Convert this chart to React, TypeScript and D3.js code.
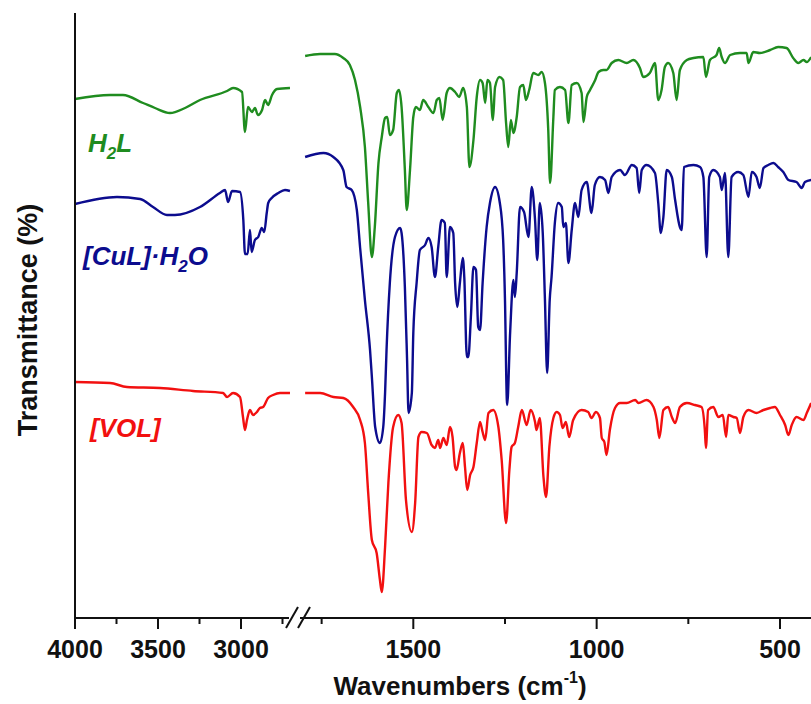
import React from "react";
import * as d3 from "d3";

// wavenumber (cm-1), transmittance (a.u., offset per spectrum)
const h2lLeft: [number, number][] = [
  [4000, 519], [3789, 523], [3711, 523], [3590, 515], [3518, 510], [3428, 505], [3337, 510], [3247, 518],
  [3084, 527], [3048, 530], [2994, 526], [2976, 486], [2958, 511], [2934, 506], [2916, 510], [2898, 503],
  [2873, 508], [2855, 518], [2837, 513], [2813, 523], [2783, 529], [2705, 530],
];
const h2lRight: [number, number][] = [
  [1795, 562], [1754, 564], [1714, 564], [1691, 560], [1673, 553], [1659, 538], [1645, 511], [1632, 471],
  [1623, 415], [1613, 361], [1605, 391], [1595, 455], [1586, 481], [1577, 500], [1571, 501], [1564, 483],
  [1555, 488], [1545, 525], [1539, 528], [1532, 511], [1523, 448], [1518, 408], [1509, 448], [1500, 501],
  [1493, 511], [1482, 508], [1473, 518], [1459, 511], [1445, 505], [1436, 518], [1429, 520], [1420, 498],
  [1409, 525], [1400, 530], [1386, 526], [1375, 521], [1364, 530], [1354, 511], [1347, 451], [1336, 478],
  [1327, 521], [1318, 538], [1311, 535], [1304, 515], [1298, 538], [1291, 535], [1283, 498], [1277, 531],
  [1265, 541], [1255, 538], [1247, 495], [1241, 471], [1234, 498], [1227, 485], [1218, 501], [1209, 531],
  [1200, 533], [1193, 518], [1184, 528], [1173, 545], [1159, 543], [1150, 546], [1141, 535], [1132, 488],
  [1127, 435], [1118, 501], [1114, 528], [1100, 531], [1086, 528], [1077, 495], [1068, 533], [1054, 535],
  [1041, 525], [1036, 496], [1027, 521], [1018, 528], [1004, 538], [995, 546], [982, 548], [973, 548],
  [959, 555], [941, 558], [918, 555], [900, 558], [882, 550], [873, 541], [855, 545], [841, 555],
  [832, 518], [823, 528], [814, 551], [805, 555], [791, 545], [782, 518], [773, 548], [754, 558],
  [736, 560], [709, 561], [702, 541], [691, 558], [673, 563], [666, 570], [659, 561], [650, 555],
  [636, 563], [609, 565], [591, 565], [586, 555], [573, 566], [555, 565], [527, 568], [505, 571],
  [482, 570], [464, 560], [450, 555], [436, 558], [427, 556], [415, 561],
];

const culLeft: [number, number][] = [
  [4000, 414], [3747, 421], [3608, 419], [3530, 411], [3446, 403], [3398, 403], [3247, 411], [3127, 425],
  [3096, 428], [3078, 416], [3054, 427], [3006, 426], [2986, 398], [2976, 364], [2960, 364], [2946, 388],
  [2936, 366], [2916, 378], [2896, 381], [2875, 390], [2860, 386], [2845, 405], [2836, 415], [2815, 420],
  [2775, 425], [2735, 428], [2705, 427],
];
const culRight: [number, number][] = [
  [1795, 461], [1745, 465], [1718, 461], [1691, 448], [1682, 431], [1668, 428], [1654, 408], [1645, 370],
  [1632, 318], [1618, 268], [1613, 241], [1604, 191], [1591, 175], [1582, 191], [1577, 225], [1573, 268],
  [1564, 335], [1550, 381], [1536, 390], [1532, 385], [1523, 331], [1517, 258], [1513, 205], [1504, 225],
  [1500, 285], [1491, 335], [1482, 368], [1468, 373], [1459, 380], [1450, 371], [1441, 341], [1432, 371],
  [1423, 398], [1414, 395], [1409, 341], [1400, 391], [1391, 385], [1386, 335], [1380, 311], [1373, 335],
  [1365, 360], [1361, 341], [1354, 261], [1350, 261], [1343, 301], [1336, 351], [1329, 348], [1323, 291],
  [1318, 288], [1311, 335], [1300, 391], [1291, 415], [1277, 431], [1264, 415], [1255, 378], [1250, 318],
  [1245, 218], [1244, 213], [1236, 285], [1227, 338], [1223, 321], [1218, 345], [1209, 411], [1198, 406],
  [1186, 381], [1177, 431], [1168, 398], [1162, 358], [1155, 415], [1147, 385], [1141, 318], [1135, 245],
  [1128, 318], [1123, 341], [1114, 395], [1105, 415], [1095, 411], [1091, 391], [1084, 395], [1077, 355],
  [1068, 388], [1059, 415], [1050, 401], [1041, 428], [1027, 436], [1014, 405], [1005, 433], [991, 441],
  [977, 438], [968, 425], [959, 441], [936, 448], [923, 443], [904, 453], [891, 450], [884, 425],
  [877, 448], [864, 453], [841, 445], [832, 415], [825, 385], [818, 401], [809, 448], [795, 441],
  [786, 418], [773, 391], [768, 388], [762, 451], [736, 453], [718, 451], [709, 441], [700, 361],
  [693, 441], [682, 448], [664, 441], [659, 428], [650, 445], [641, 361], [632, 441], [614, 446],
  [600, 443], [586, 421], [577, 446], [564, 441], [555, 430], [545, 450], [532, 453], [518, 455],
  [505, 451], [491, 446], [477, 438], [455, 436], [441, 430], [432, 436], [415, 438],
];

const volLeft: [number, number][] = [
  [4000, 236], [3789, 235], [3687, 231], [3488, 230], [3289, 227], [3108, 225], [3084, 221], [3048, 225],
  [3006, 221], [2988, 201], [2976, 188], [2964, 198], [2946, 208], [2928, 203], [2904, 206], [2886, 210],
  [2867, 211], [2837, 220], [2807, 223], [2765, 225], [2705, 225],
];
const volRight: [number, number][] = [
  [1795, 225], [1754, 225], [1718, 221], [1691, 220], [1664, 211], [1645, 198], [1632, 175], [1623, 125],
  [1613, 78], [1600, 65], [1591, 38], [1586, 26], [1577, 71], [1568, 135], [1555, 191], [1541, 203],
  [1532, 195], [1520, 118], [1504, 86], [1495, 115], [1486, 181], [1477, 186], [1463, 185], [1450, 173],
  [1441, 170], [1432, 178], [1427, 170], [1418, 180], [1409, 173], [1400, 191], [1393, 181], [1386, 151],
  [1382, 148], [1373, 165], [1365, 175], [1359, 151], [1353, 128], [1345, 143], [1336, 151], [1327, 175],
  [1318, 196], [1311, 186], [1304, 178], [1295, 205], [1282, 208], [1268, 191], [1259, 158], [1247, 95],
  [1238, 148], [1232, 171], [1223, 175], [1214, 191], [1204, 208], [1191, 193], [1180, 208], [1168, 196],
  [1164, 188], [1155, 200], [1145, 141], [1138, 121], [1129, 171], [1118, 200], [1109, 206], [1100, 203],
  [1093, 190], [1084, 196], [1075, 181], [1064, 198], [1041, 208], [1023, 206], [1014, 200], [1002, 206],
  [991, 200], [986, 180], [979, 176], [973, 163], [964, 188], [950, 210], [936, 215], [918, 215],
  [895, 218], [886, 215], [864, 218], [845, 211], [836, 198], [829, 180], [818, 208], [805, 211],
  [795, 201], [786, 195], [773, 211], [754, 215], [732, 213], [714, 211], [705, 188], [702, 170],
  [696, 208], [682, 211], [668, 201], [656, 203], [647, 181], [641, 203], [627, 201], [618, 200],
  [609, 185], [600, 201], [586, 208], [564, 205], [545, 208], [527, 210], [514, 211], [500, 203],
  [486, 193], [477, 183], [468, 193], [455, 201], [436, 198], [427, 205], [415, 215],
];

const leftMajorTicks = [4000, 3500, 3000];
const leftMinorTicks = [3750, 3250, 2750];
const rightMajorTicks = [1500, 1000, 500];
const rightMinorTicks = [1750, 1250, 750];

const GREEN = "#1f8c1f";
const BLUE = "#0c0c8e";
const RED = "#f21010";

export default function App() {
  const W = 811, H = 704;
  const axisY = 618;
  const axisX = 75;
  const xL = d3.scaleLinear().domain([4000, 3000]).range([75, 241]);
  const xR = d3.scaleLinear().domain([1800, 500]).range([303.3, 780]);
  const y = d3.scaleLinear().domain([0, 605]).range([618, 13]);

  const lineL = d3.line<[number, number]>().x((d) => xL(d[0])).y((d) => y(d[1])).curve(d3.curveMonotoneX);
  const lineR = d3.line<[number, number]>().x((d) => xR(d[0])).y((d) => y(d[1])).curve(d3.curveMonotoneX);

  const series = [
    { l: h2lLeft, r: h2lRight, c: GREEN },
    { l: culLeft, r: culRight, c: BLUE },
    { l: volLeft, r: volRight, c: RED },
  ];

  const font = "'Liberation Sans', Arial, Helvetica, sans-serif";
  const tickLabel = (x: number, t: number) => (
    <text key={"t" + t + x} x={x} y={658} textAnchor="middle" fontSize={25} fontWeight="bold" fontFamily={font} fill="#111">
      {t}
    </text>
  );

  return (
    <svg width={W} height={H} style={{ position: "absolute", left: 0, top: 0, background: "#fff" }}>
      <defs>
        <clipPath id="clipR">
          <rect x={300} y={0} width={W - 300} height={H} />
        </clipPath>
      </defs>
      {series.map((s, i) => (
        <g key={i} fill="none" stroke={s.c} strokeWidth={2.4} strokeLinejoin="round">
          <path d={lineL(s.l) || ""} />
          <path d={lineR(s.r) || ""} clipPath="url(#clipR)" />
        </g>
      ))}

      {/* axes */}
      <line x1={axisX} x2={axisX} y1={13} y2={axisY + 1} stroke="#111" strokeWidth={2} />
      <line x1={axisX - 1} x2={289} y1={axisY} y2={axisY} stroke="#111" strokeWidth={2} />
      <line x1={300} x2={W} y1={axisY} y2={axisY} stroke="#111" strokeWidth={2} />
      <line x1={286} y1={628} x2={298} y2={607} stroke="#111" strokeWidth={2} />
      <line x1={298} y1={628} x2={310} y2={607} stroke="#111" strokeWidth={2} />

      {leftMajorTicks.map((t) => (
        <line key={"lM" + t} x1={xL(t)} x2={xL(t)} y1={axisY} y2={axisY + 11} stroke="#111" strokeWidth={2} />
      ))}
      {leftMinorTicks.map((t) => (
        <line key={"lm" + t} x1={xL(t)} x2={xL(t)} y1={axisY} y2={axisY + 6} stroke="#111" strokeWidth={2} />
      ))}
      {rightMajorTicks.map((t) => (
        <line key={"rM" + t} x1={xR(t)} x2={xR(t)} y1={axisY} y2={axisY + 11} stroke="#111" strokeWidth={2} />
      ))}
      {rightMinorTicks.map((t) => (
        <line key={"rm" + t} x1={xR(t)} x2={xR(t)} y1={axisY} y2={axisY + 6} stroke="#111" strokeWidth={2} />
      ))}
      {leftMajorTicks.map((t) => tickLabel(xL(t), t))}
      {rightMajorTicks.map((t) => tickLabel(xR(t), t))}

      {/* axis titles */}
      <text x={460} y={695} textAnchor="middle" fontSize={26} fontWeight="bold" fontFamily={font} fill="#111">
        Wavenumbers (cm<tspan fontSize={16} dy={-12}>-1</tspan><tspan dy={12}>)</tspan>
      </text>
      <text transform="translate(37,320) rotate(-90)" textAnchor="middle" fontSize={27} fontWeight="bold" fontFamily={font} fill="#111">
        Transmittance (%)
      </text>

      {/* labels */}
      <text x={88} y={152} fontSize={26} fontWeight="bold" fontStyle="italic" fontFamily={font} fill={GREEN}>
        H<tspan fontSize={17} dy={7}>2</tspan><tspan dy={-7}>L</tspan>
      </text>
      <text x={83} y={265} fontSize={26} fontWeight="bold" fontStyle="italic" fontFamily={font} fill={BLUE}>
        [CuL]·H<tspan fontSize={17} dy={7}>2</tspan><tspan dy={-7}>O</tspan>
      </text>
      <text x={90} y={437} fontSize={26} fontWeight="bold" fontStyle="italic" fontFamily={font} fill={RED}>
        [VOL]
      </text>
    </svg>
  );
}
